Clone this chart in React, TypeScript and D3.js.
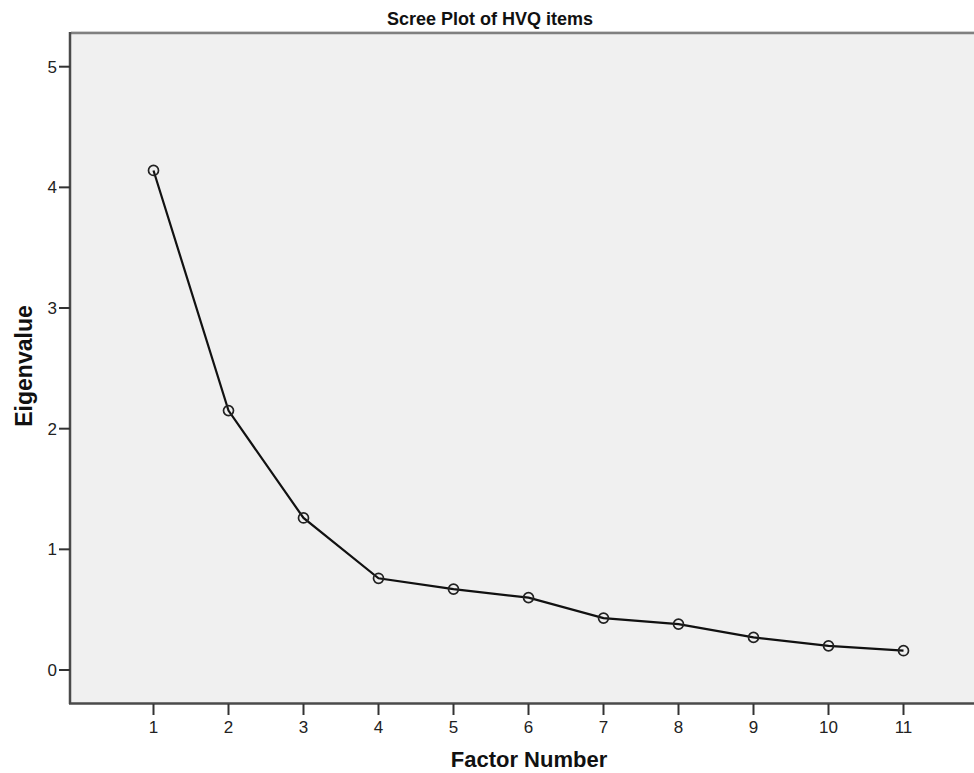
import React, { useEffect, useRef } from 'react';
import { select, scaleLinear, line } from 'd3';

const factors = [1, 2, 3, 4, 5, 6, 7, 8, 9, 10, 11];
const eigenvalues = [4.14, 2.15, 1.26, 0.76, 0.67, 0.6, 0.43, 0.38, 0.27, 0.2, 0.16];
const yTicks = [0, 1, 2, 3, 4, 5];

const chartTitle = 'Scree Plot of HVQ items';
const xTitle = 'Factor Number';
const yTitle = 'Eigenvalue';

const App = () => {
  const svgRef = useRef<SVGSVGElement>(null);

  useEffect(() => {
    const width = 974;
    const height = 773;
    const plot = { left: 71, top: 34, right: 974, bottom: 703 };
    const font = '"Liberation Sans", Arial, sans-serif';

    const svg = select(svgRef.current);
    svg.selectAll('*').remove();
    svg.attr('width', width).attr('height', height);

    svg.append('rect')
      .attr('width', width)
      .attr('height', height)
      .attr('fill', '#fff');

    const x = scaleLinear().domain([1, 11]).range([153.5, 903.5]);
    const y = scaleLinear().domain([0, 5]).range([670, 66.7]);

    // plot background
    svg.append('rect')
      .attr('x', plot.left)
      .attr('y', plot.top)
      .attr('width', plot.right - plot.left)
      .attr('height', plot.bottom - plot.top)
      .attr('fill', '#f0f0f0');

    // top frame
    svg.append('line')
      .attr('x1', plot.left).attr('x2', plot.right)
      .attr('y1', plot.top - 1).attr('y2', plot.top - 1)
      .attr('stroke', '#808080').attr('stroke-width', 2.5);
    svg.append('line')
      .attr('x1', plot.left).attr('x2', plot.right)
      .attr('y1', plot.top - 2.5).attr('y2', plot.top - 2.5)
      .attr('stroke', '#d0d0d0').attr('stroke-width', 1);

    // axes lines
    svg.append('line')
      .attr('x1', plot.left - 1).attr('x2', plot.left - 1)
      .attr('y1', plot.top - 2).attr('y2', plot.bottom + 1)
      .attr('stroke', '#4a4a4a').attr('stroke-width', 2.5);
    svg.append('line')
      .attr('x1', plot.left - 2).attr('x2', plot.right)
      .attr('y1', plot.bottom + 0.5).attr('y2', plot.bottom + 0.5)
      .attr('stroke', '#4a4a4a').attr('stroke-width', 2.5);

    // y ticks
    const yt = svg.append('g');
    yt.selectAll('line')
      .data(yTicks)
      .enter().append('line')
      .attr('x1', plot.left - 12).attr('x2', plot.left - 1)
      .attr('y1', d => y(d)).attr('y2', d => y(d))
      .attr('stroke', '#333').attr('stroke-width', 2);
    yt.selectAll('text')
      .data(yTicks)
      .enter().append('text')
      .attr('x', plot.left - 14)
      .attr('y', d => y(d))
      .attr('dy', '0.36em')
      .attr('text-anchor', 'end')
      .style('font-family', font)
      .style('font-size', '17px')
      .attr('fill', '#222')
      .text(d => d);

    // x ticks
    const xt = svg.append('g');
    xt.selectAll('line')
      .data(factors)
      .enter().append('line')
      .attr('x1', d => x(d)).attr('x2', d => x(d))
      .attr('y1', plot.bottom + 1).attr('y2', plot.bottom + 12)
      .attr('stroke', '#333').attr('stroke-width', 2);
    xt.selectAll('text')
      .data(factors)
      .enter().append('text')
      .attr('x', d => x(d))
      .attr('y', 733)
      .attr('text-anchor', 'middle')
      .style('font-family', font)
      .style('font-size', '17px')
      .attr('fill', '#222')
      .text(d => d);

    // series line
    const pts = factors.map((f, i) => [f, eigenvalues[i]] as [number, number]);
    const path = line<[number, number]>().x(d => x(d[0])).y(d => y(d[1]));
    svg.append('path')
      .attr('d', path(pts))
      .attr('fill', 'none')
      .attr('stroke', '#111')
      .attr('stroke-width', 2.2);

    svg.append('g').selectAll('circle')
      .data(pts)
      .enter().append('circle')
      .attr('cx', d => x(d[0]))
      .attr('cy', d => y(d[1]))
      .attr('r', 5)
      .attr('fill', 'none')
      .attr('stroke', '#222')
      .attr('stroke-width', 1.7);

    // titles
    svg.append('text')
      .attr('x', 490)
      .attr('y', 25)
      .attr('text-anchor', 'middle')
      .style('font-family', font)
      .style('font-size', '18px')
      .style('font-weight', 'bold')
      .attr('fill', '#111')
      .text(chartTitle);

    svg.append('text')
      .attr('x', 529)
      .attr('y', 767)
      .attr('text-anchor', 'middle')
      .style('font-family', font)
      .style('font-size', '22px')
      .style('font-weight', 'bold')
      .attr('fill', '#111')
      .text(xTitle);

    svg.append('text')
      .attr('transform', `translate(32, 366) rotate(-90)`)
      .attr('text-anchor', 'middle')
      .style('font-family', font)
      .style('font-size', '23px')
      .style('font-weight', 'bold')
      .attr('fill', '#111')
      .text(yTitle);
  }, []);

  return (
    <svg
      ref={svgRef}
      style={{ position: 'absolute', left: 0, top: 0, display: 'block' }}
    />
  );
};

export default App;
